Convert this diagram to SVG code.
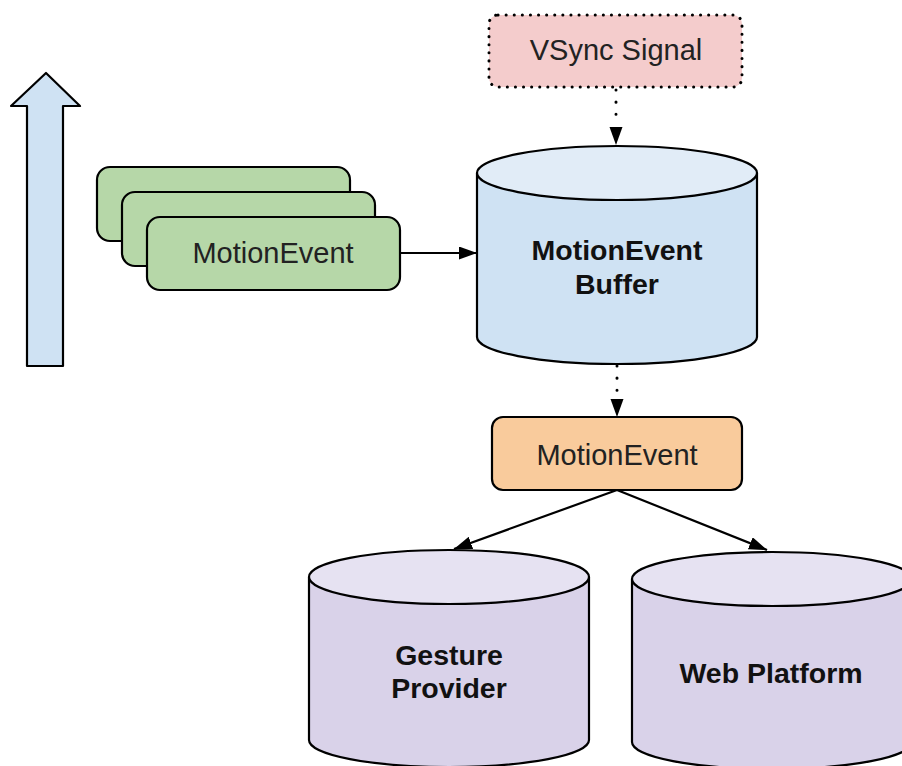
<svg xmlns="http://www.w3.org/2000/svg" width="902" height="766" viewBox="0 0 902 766">
  <style>
    .stroke { stroke: #000000; stroke-width: 2.2; stroke-linejoin: round; }
    .label { font-family: "Liberation Sans", Arial, sans-serif; font-size: 29px; fill: #222222; text-anchor: middle; }
    .bold { font-weight: bold; fill: #111111; font-size: 28.5px; }
    .solid { fill: none; stroke: #000000; stroke-width: 2.2; }
    .dotted { fill: none; stroke: #000000; stroke-width: 3; stroke-dasharray: 0.1 12; stroke-linecap: round; }
  </style>
  <defs>
    <marker id="arrow" viewBox="0 0 18 13" refX="18" refY="6.5" markerWidth="18" markerHeight="13" markerUnits="userSpaceOnUse" orient="auto">
      <path d="M0,0 L18,6.5 L0,13 Z" fill="#000000"/>
    </marker>
  </defs>

  <!-- upward flow arrow -->
  <g id="flow-arrow">
    <path class="stroke" fill="#cfe2f3" d="M27,366 L27,106 L11,106 L46,73 L80,106 L63,106 L63,366 Z"/>
  </g>

  <!-- stacked input events -->
  <g id="input-events">
    <rect class="stroke" x="97" y="167" width="253" height="74" rx="13" fill="#b6d7a8"/>
    <rect class="stroke" x="122" y="192" width="253" height="74" rx="13" fill="#b6d7a8"/>
    <rect class="stroke" x="147" y="217" width="253" height="73" rx="13" fill="#b6d7a8"/>
    <text class="label" x="273" y="263">MotionEvent</text>
  </g>

  <!-- vsync source -->
  <g id="vsync">
    <rect x="489" y="15" width="253" height="72" rx="9" fill="#f4cccc" stroke="#000000" stroke-width="3" stroke-dasharray="0.1 8" stroke-linecap="round"/>
    <text class="label" x="616" y="60">VSync Signal</text>
  </g>

  <!-- buffer cylinder -->
  <g id="buffer">
    <path class="stroke" fill="#cfe2f3" d="M477,173 L477,337 A140,27 0 0 0 757,337 L757,173 Z"/>
    <ellipse class="stroke" cx="617" cy="173" rx="140" ry="27" fill="#e1ecf7"/>
    <text class="label bold" x="617" y="260">MotionEvent</text>
    <text class="label bold" x="617" y="294">Buffer</text>
  </g>

  <!-- dispatched event -->
  <g id="dispatched-event">
    <rect class="stroke" x="492" y="417" width="250" height="73" rx="11" fill="#f9cb9c"/>
    <text class="label" x="617" y="465">MotionEvent</text>
  </g>

  <!-- consumers -->
  <g id="gesture-provider">
    <path class="stroke" fill="#d9d2e9" d="M309,577 L309,740 A140,27 0 0 0 589,740 L589,577 Z"/>
    <ellipse class="stroke" cx="449" cy="577" rx="140" ry="27" fill="#e6e2f2"/>
    <text class="label bold" x="449" y="665">Gesture</text>
    <text class="label bold" x="449" y="698">Provider</text>
  </g>

  <g id="web-platform">
    <path class="stroke" fill="#d9d2e9" d="M632,579 L632,742 A140,27 0 0 0 912,742 L912,579 Z"/>
    <ellipse class="stroke" cx="772" cy="579" rx="140" ry="27" fill="#e6e2f2"/>
    <text class="label bold" x="771" y="683">Web Platform</text>
  </g>

  <!-- connectors -->
  <g id="connectors">
    <line class="dotted" x1="616" y1="90" x2="616" y2="126"/>
    <path d="M609.5,127 L622.5,127 L616,145 Z" fill="#000000"/>
    <line class="solid" x1="400" y1="253" x2="477" y2="253" marker-end="url(#arrow)"/>
    <line class="dotted" x1="617" y1="366" x2="617" y2="398"/>
    <path d="M610.5,399 L623.5,399 L617,417 Z" fill="#000000"/>
    <line class="solid" x1="617" y1="490" x2="454" y2="549" marker-end="url(#arrow)"/>
    <line class="solid" x1="617" y1="490" x2="767" y2="550" marker-end="url(#arrow)"/>
  </g>
</svg>
